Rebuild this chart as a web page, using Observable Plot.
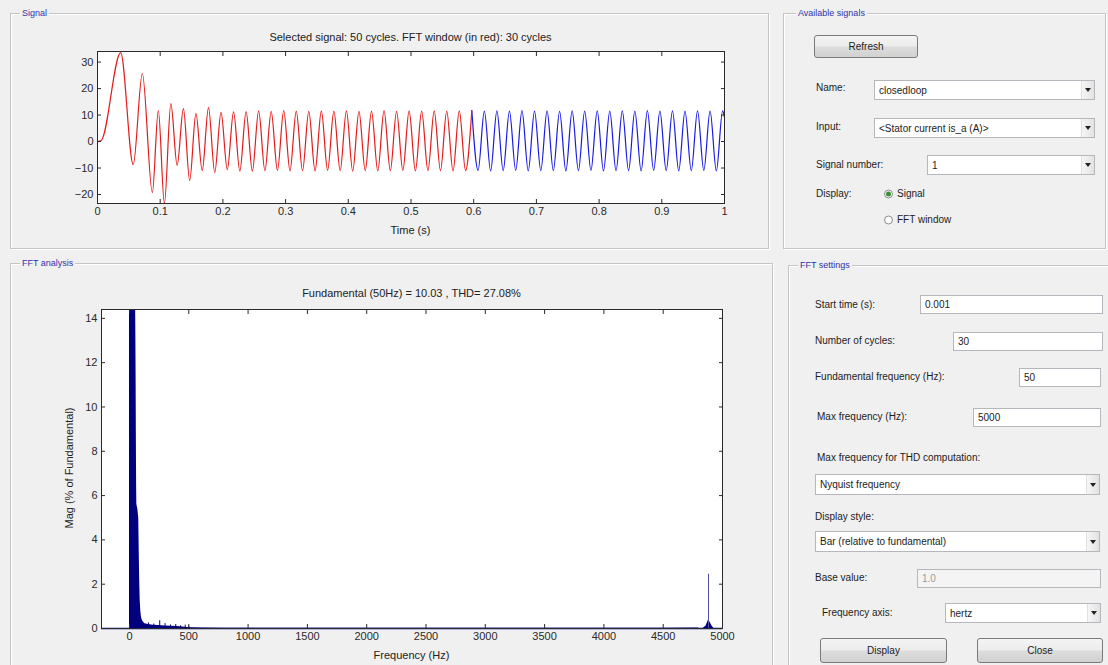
<!DOCTYPE html>
<html>
<head>
<meta charset="utf-8">
<script src="https://cdn.jsdelivr.net/npm/d3@7"></script>
<script src="https://cdn.jsdelivr.net/npm/@observablehq/plot@0.6"></script>
<style>
  html, body { margin: 0; padding: 0; }
  body {
    width: 1108px; height: 665px; position: relative; overflow: hidden;
    background: #f0f0f0; color: #1c1c1c;
    font-family: "Liberation Sans", Arial, sans-serif; font-size: 10px;
  }
  .panel { position: absolute; border: 1px solid #c4c4c4; box-shadow: inset 1px 1px 0 #fff, 1px 1px 0 #fff; }
  .ptitle { position: absolute; top: -7px; left: 9px; padding: 0 2px; background: #f0f0f0;
            color: #3232a8; font-size: 9px; line-height: 12px; white-space: nowrap; }
  .lbl { position: absolute; line-height: 12px; transform: translateY(-50%); white-space: nowrap; }
  .btn { position: absolute; box-sizing: border-box; border: 1px solid #7a7a7a; border-radius: 3px;
         background: linear-gradient(#f4f4f4 0%, #ececec 48%, #dddddd 52%, #d1d1d1 100%);
         display: flex; align-items: center; justify-content: center; }
  .edit, .combo { position: absolute; box-sizing: border-box; background: #fff; border: 1px solid #b5b7bd;
                  padding-left: 4px; display: flex; align-items: center; white-space: nowrap; }
  .edit.off { background: #f4f4f4; color: #9a9a9a; }
  .combo::after { content: ""; position: absolute; right: 3px; top: 50%; margin-top: -2px;
                  border-left: 3px solid transparent; border-right: 3px solid transparent; border-top: 4px solid #222; }
  .combo::before { content: ""; position: absolute; right: 0; top: 0; bottom: 0; width: 12px;
                   background: linear-gradient(90deg, #f6f6f6, #e2e2e2); border-left: 1px solid #e0e0e0; }
  .radio { position: absolute; width: 9px; height: 9px; border-radius: 50%; box-sizing: border-box;
           border: 1px solid #8c8c8c; background: #fafafa; transform: translateY(-50%); }
  .radio.on::after { content: ""; position: absolute; left: 1px; top: 1px; width: 5px; height: 5px;
                     border-radius: 50%; background: #3b8f3b; }
  .ttl { position: absolute; text-align: center; font-size: 11px; line-height: 13px; white-space: nowrap; color: #222; }
  .chart { position: absolute; }
</style>
</head>
<body>

<div class="panel" style="left:10px; top:13px; width:757px; height:234px;"><div class="ptitle">Signal</div></div>
<div class="panel" style="left:10px; top:263px; width:761px; height:420px;"><div class="ptitle">FFT analysis</div></div>
<div class="panel" style="left:783px; top:13px; width:321px; height:234px;"><div class="ptitle" style="left:12px;">Available signals</div></div>
<div class="panel" style="left:788px; top:265px; width:330px; height:420px;"><div class="ptitle">FFT settings</div></div>

<div class="ttl" style="left:97px; width:627px; top:31px;">Selected signal: 50 cycles. FFT window (in red): 30 cycles</div>
<div class="ttl" style="left:97px; width:627px; top:224px;">Time (s)</div>
<div class="ttl" style="left:101px; width:621px; top:287px;">Fundamental (50Hz) = 10.03 , THD= 27.08%</div>
<div class="ttl" style="left:101px; width:621px; top:649px;">Frequency (Hz)</div>
<div class="ttl" style="left:0; width:140px; top:461px; transform-origin:70px 7px; transform: rotate(-90deg);">Mag (% of Fundamental)</div>

<div id="sig" class="chart" style="left:40px; top:40px;"></div>
<div id="fft" class="chart" style="left:40px; top:300px;"></div>

<!-- Available signals -->
<div class="btn" style="left:814px; top:35px; width:104px; height:23px;">Refresh</div>
<div class="lbl" style="left:816px; top:88px;">Name:</div>
<div class="combo" style="left:874px; top:80px; width:221px; height:20px;">closedloop</div>
<div class="lbl" style="left:816px; top:127px;">Input:</div>
<div class="combo" style="left:874px; top:118px; width:221px; height:20px;">&lt;Stator current is_a (A)&gt;</div>
<div class="lbl" style="left:816px; top:165px;">Signal number:</div>
<div class="combo" style="left:927px; top:155px; width:168px; height:20px;">1</div>
<div class="lbl" style="left:816px; top:194px;">Display:</div>
<div class="radio on" style="left:884px; top:194px;"></div>
<div class="lbl" style="left:897px; top:194px;">Signal</div>
<div class="radio" style="left:884px; top:220px;"></div>
<div class="lbl" style="left:897px; top:220px;">FFT window</div>

<!-- FFT settings -->
<div class="lbl" style="left:815px; top:305px;">Start time (s):</div>
<div class="edit" style="left:920px; top:295px; width:183px; height:19px;">0.001</div>
<div class="lbl" style="left:815px; top:341px;">Number of cycles:</div>
<div class="edit" style="left:953px; top:332px; width:150px; height:19px;">30</div>
<div class="lbl" style="left:815px; top:377px;">Fundamental frequency (Hz):</div>
<div class="edit" style="left:1019px; top:368px; width:82px; height:19px;">50</div>
<div class="lbl" style="left:817px; top:417px;">Max frequency (Hz):</div>
<div class="edit" style="left:973px; top:408px; width:128px; height:19px;">5000</div>
<div class="lbl" style="left:817px; top:458px;">Max frequency for THD computation:</div>
<div class="combo" style="left:815px; top:474px; width:285px; height:21px;">Nyquist frequency</div>
<div class="lbl" style="left:815px; top:517px;">Display style:</div>
<div class="combo" style="left:815px; top:531px; width:285px; height:21px;">Bar (relative to fundamental)</div>
<div class="lbl" style="left:815px; top:578px;">Base value:</div>
<div class="edit off" style="left:917px; top:569px; width:184px; height:19px;">1.0</div>
<div class="lbl" style="left:822px; top:613px;">Frequency axis:</div>
<div class="combo" style="left:945px; top:603px; width:156px; height:20px;">hertz</div>
<div class="btn" style="left:820px; top:638px; width:127px; height:25px;">Display</div>
<div class="btn" style="left:977px; top:638px; width:126px; height:25px;">Close</div>

<script>
// Stator current is_a: successive peaks and troughs of the recorded waveform (s, A)
const sigTime = [
  0, 0.006, 0.037, 0.057, 0.0715, 0.0875, 0.097, 0.1067,
  0.117, 0.127, 0.137, 0.147, 0.157, 0.167, 0.177, 0.187, 0.197, 0.207, 0.217, 0.227,
  0.237, 0.247, 0.257, 0.267, 0.277, 0.287, 0.297, 0.307, 0.317, 0.327,
  0.337, 0.347, 0.357, 0.367, 0.377, 0.387, 0.397, 0.407, 0.417, 0.427,
  0.437, 0.447, 0.457, 0.467, 0.477, 0.487, 0.497, 0.507, 0.517, 0.527,
  0.537, 0.547, 0.557, 0.567, 0.577, 0.587, 0.597, 0.607, 0.617, 0.627,
  0.637, 0.647, 0.657, 0.667, 0.677, 0.687, 0.697, 0.707, 0.717, 0.727,
  0.737, 0.747, 0.757, 0.767, 0.777, 0.787, 0.797, 0.807, 0.817, 0.827,
  0.837, 0.847, 0.857, 0.867, 0.877, 0.887, 0.897, 0.907, 0.917, 0.927,
  0.937, 0.947, 0.957, 0.967, 0.977, 0.987, 0.997, 1.0
];
const sigAmp = [
  0, 0.4, 33.6, -8.7, 25.7, -19.3, 11.7, -23.4,
  14.3, -9.0, 12.4, -14.7, 10.6, -11.0, 12.8, -11.7, 11.0, -10.6, 11.2, -11.2,
  11.3, -11.2, 11.6, -11.0, 11.4, -10.9, 11.7, -11.1, 11.5, -11.0,
  11.4, -11.1, 11.6, -10.9, 11.5, -11.0, 11.6, -11.2, 11.4, -11.0,
  11.5, -11.1, 11.7, -11.0, 11.4, -10.9, 11.6, -11.1, 11.5, -11.0,
  11.6, -11.0, 11.5, -11.1, 11.6, -11.0, 11.7, -10.9, 11.5, -11.1,
  11.6, -11.0, 11.5, -10.9, 11.7, -11.1, 11.5, -11.0, 11.6, -11.0,
  11.4, -11.1, 11.6, -11.0, 11.5, -10.9, 11.6, -11.1, 11.5, -11.0,
  11.6, -11.0, 11.5, -11.1, 11.7, -10.9, 11.5, -11.0, 11.6, -11.1,
  11.5, -11.0, 11.6, -10.9, 11.5, -11.1, 11.6, 9.0
];
const fftWindow = [0.001, 0.601];   // 30 cycles of 50 Hz
const sigTicksX = [0, 0.1, 0.2, 0.3, 0.4, 0.5, 0.6, 0.7, 0.8, 0.9, 1];
const sigTicksY = [-20, -10, 0, 10, 20, 30];

// Harmonic spectrum, % of the 50 Hz fundamental
const fftHz  = [0, 2, 46, 50, 52, 54, 56, 58, 60, 62, 70, 78, 82, 86, 90, 95, 100, 106, 115, 130, 160, 200, 250, 300, 350, 400, 450, 480, 520, 600, 800, 1500, 2500, 3500, 4500, 4800];
const fftMag = [30, 30, 18, 100, 14.4, 13.0, 11.0, 8.5, 6.5, 5.6, 5.4, 5.0, 3.5, 2.2, 1.3, 0.8, 0.55, 0.4, 0.3, 0.22, 0.18, 0.15, 0.13, 0.11, 0.1, 0.09, 0.07, 0.05, 0.03, 0.02, 0.015, 0.01, 0.01, 0.01, 0.01, 0.02];
const lowSpikeHz  = [160, 205, 255, 300, 345, 390, 430, 470, 500];
const lowSpikeMag = [0.25, 0.2, 0.35, 0.22, 0.16, 0.18, 0.12, 0.15, 0.1];
const hfHz  = [4840, 4860, 4872, 4882, 4895, 4910, 4925];
const hfMag = [0.02, 0.1, 0.25, 0.38, 0.28, 0.12, 0.02];
const spikeHz  = [4882];
const spikeMag = [2.45];
const fftTicksX = [0, 500, 1000, 1500, 2000, 2500, 3000, 3500, 4000, 4500, 5000];
const fftTicksY = [0, 2, 4, 6, 8, 10, 12, 14];

const font = '"Liberation Sans", Arial, sans-serif';
const ink = "#2a2a2a";
const navy = "#00007f";

// MATLAB-style box: labels outside on bottom/left, short ticks pointing inward on all four sides
function boxAxes(xt, yt, fmtX) {
  const blank = () => "";
  return [
    Plot.axisX(xt, {anchor: "bottom", tickSize: 0, tickPadding: 4, tickFormat: fmtX, label: null, fill: ink, fontSize: 11}),
    Plot.axisY(yt, {anchor: "left", tickSize: 0, tickPadding: 4, label: null, fill: ink, fontSize: 11}),
    Plot.axisX(xt, {anchor: "bottom", tickSize: 4, dy: -4, tickFormat: blank, label: null, stroke: ink}),
    Plot.axisX(xt, {anchor: "top", tickSize: 4, dy: 4, tickFormat: blank, label: null, stroke: ink}),
    Plot.axisY(yt, {anchor: "left", tickSize: 4, dx: 4, tickFormat: blank, label: null, stroke: ink}),
    Plot.axisY(yt, {anchor: "right", tickSize: 4, dx: -4, tickFormat: blank, label: null, stroke: ink})
  ];
}

const signal = sigTime.map((t, i) => ({t, a: sigAmp[i]}));
const inWindow = signal.filter(d => d.t <= fftWindow[1]);
const afterWindow = signal.filter(d => d.t >= inWindow[inWindow.length - 1].t);

document.getElementById("sig").append(Plot.plot({
  width: 710, height: 205,
  marginLeft: 57, marginRight: 26, marginTop: 11, marginBottom: 42,
  style: {background: "transparent", fontFamily: font, overflow: "visible"},
  x: {domain: [0, 1]},
  y: {domain: [-23.4, 34]},
  marks: [
    Plot.frame({fill: "white", stroke: null}),
    Plot.lineY(afterWindow, {x: "t", y: "a", stroke: "#1a1ae6", strokeWidth: 1.2, curve: "monotone-x", clip: true}),
    Plot.lineY(inWindow, {x: "t", y: "a", stroke: "#e61a1a", strokeWidth: 1.2, curve: "monotone-x", clip: true}),
    Plot.frame({stroke: ink}),
    ...boxAxes(sigTicksX, sigTicksY, d => String(d))
  ]
}));

const spectrum = fftHz.map((f, i) => ({f, m: fftMag[i]}));
const lowSpikes = lowSpikeHz.map((f, i) => ({f, m: lowSpikeMag[i]}));
const hf = hfHz.map((f, i) => ({f, m: hfMag[i]}));
const spikes = spikeHz.map((f, i) => ({f, m: spikeMag[i]}));

document.getElementById("fft").append(Plot.plot({
  width: 710, height: 365,
  marginLeft: 61, marginRight: 28, marginTop: 9, marginBottom: 37,
  style: {background: "transparent", fontFamily: font, overflow: "visible"},
  x: {domain: [-236, 5000]},
  y: {domain: [0, 14.4]},
  marks: [
    Plot.frame({fill: "white", stroke: null}),
    Plot.areaY(spectrum, {x: "f", y: "m", fill: navy, curve: "linear", clip: true}),
    Plot.ruleX(lowSpikes, {x: "f", y1: 0, y2: "m", stroke: navy, strokeWidth: 1}),
    Plot.areaY(hf, {x: "f", y: "m", fill: navy, curve: "linear"}),
    Plot.ruleX(spikes, {x: "f", y1: 0, y2: "m", stroke: "#5050a8", strokeWidth: 1}),
    Plot.ruleY([0], {stroke: navy, strokeWidth: 1.5}),
    Plot.frame({stroke: ink}),
    ...boxAxes(fftTicksX, fftTicksY, d => String(d))
  ]
}));
</script>
</body>
</html>
